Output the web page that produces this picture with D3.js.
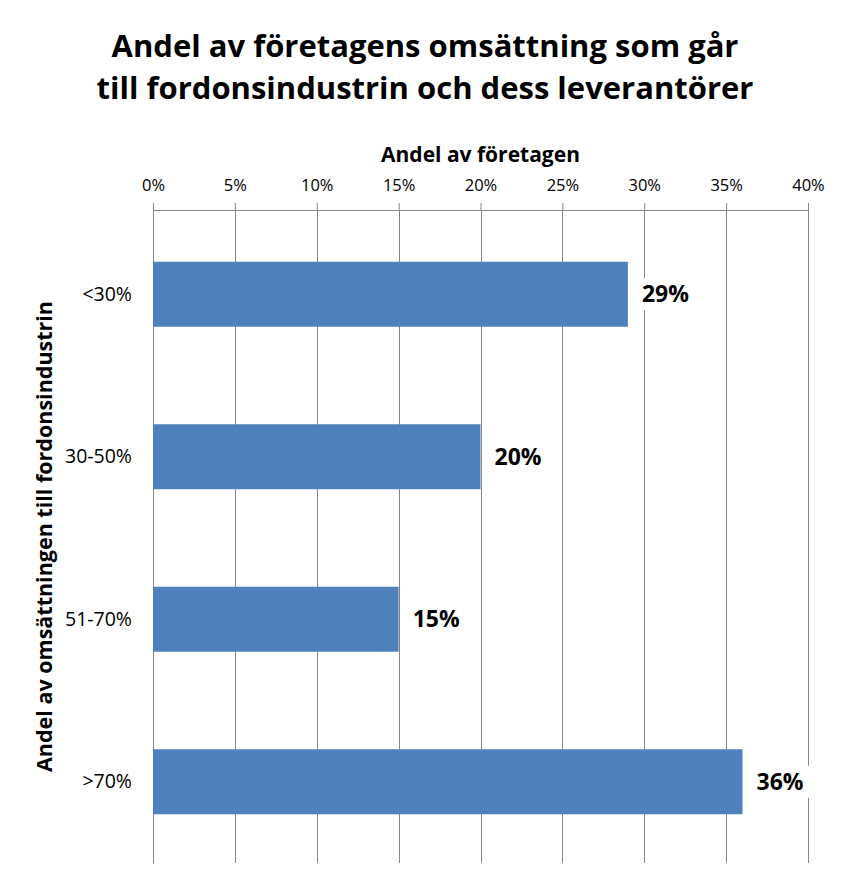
<!DOCTYPE html>
<html>
<head>
<meta charset="utf-8">
<script src="https://cdn.jsdelivr.net/npm/d3@7"></script>
<style>
  body { margin: 0; background: #fff; }
  text { font-family: 'Open Sans', sans-serif; }
</style>
</head>
<body>
<div id="chart"></div>
<script>
'use strict'

// Data
const categories = ['<30%', '30-50%', '51-70%', '>70%']
const values = [0.29, 0.2, 0.15, 0.36]
const xTicks = [0, 0.05, 0.1, 0.15, 0.2, 0.25, 0.3, 0.35, 0.4]
const titleLines = [
  'Andel av företagens omsättning som går',
  'till fordonsindustrin och dess leverantörer',
]

function draw() {
  const dimensions = {
    width: 850,
    height: 886,
    margin: { top: 210, right: 42, bottom: 23, left: 153 },
  }
  dimensions.containerWidth =
    dimensions.width - dimensions.margin.left - dimensions.margin.right
  dimensions.containerHeight =
    dimensions.height - dimensions.margin.top - dimensions.margin.bottom

  const svg = d3
    .select('#chart')
    .append('svg')
    .attr('width', dimensions.width)
    .attr('height', dimensions.height)

  // Title
  svg
    .append('text')
    .attr('text-anchor', 'middle')
    .attr('font-weight', 'bold')
    .attr('font-size', 31)
    .selectAll('tspan')
    .data(titleLines)
    .join('tspan')
    .attr('x', 425)
    .attr('y', (d, i) => 57 + i * 42)
    .text((d) => d)

  const container = svg
    .append('g')
    .attr(
      'transform',
      `translate(${dimensions.margin.left}, ${dimensions.margin.top})`
    )

  // Scales
  const xScale = d3
    .scaleLinear()
    .domain([0, 0.4])
    .range([0, dimensions.containerWidth])

  const yScale = d3
    .scaleBand()
    .domain(categories)
    .range([3, dimensions.containerHeight])
    .paddingInner(0.6)
    .paddingOuter(0.3)

  // Gridlines
  container
    .append('g')
    .selectAll('line')
    .data(xTicks)
    .join('line')
    .attr('x1', (d) => Math.round(xScale(d)) + 0.5)
    .attr('x2', (d) => Math.round(xScale(d)) + 0.5)
    .attr('y1', 0)
    .attr('y2', dimensions.containerHeight)
    .attr('stroke', '#868686')

  // Top axis
  const xAxis = d3
    .axisTop(xScale)
    .tickValues(xTicks)
    .tickSize(7)
    .tickPadding(12)
    .tickFormat(d3.format('.0%'))

  const xAxisGroup = container.append('g').call(xAxis)
  xAxisGroup.selectAll('path, line').attr('stroke', '#868686')
  xAxisGroup
    .selectAll('text')
    .attr('font-size', 16.5)
    .attr('fill', '#000')
    .style('font-family', "'Open Sans', sans-serif")

  xAxisGroup
    .append('text')
    .attr('x', dimensions.containerWidth / 2)
    .attr('y', -48)
    .attr('fill', '#000')
    .attr('font-weight', 'bold')
    .attr('font-size', 21)
    .attr('text-anchor', 'middle')
    .style('font-family', "'Open Sans', sans-serif")
    .text('Andel av företagen')

  // Left axis
  const yAxis = d3.axisLeft(yScale).tickSize(0).tickPadding(21)
  const yAxisGroup = container.append('g').call(yAxis)
  yAxisGroup.select('path').attr('stroke', '#868686')
  yAxisGroup
    .selectAll('text')
    .attr('font-size', 19.5)
    .attr('fill', '#000')
    .style('font-family', "'Open Sans', sans-serif")

  yAxisGroup
    .append('text')
    .attr('transform', 'rotate(-90)')
    .attr('x', -dimensions.containerHeight / 2)
    .attr('y', -101)
    .attr('fill', '#000')
    .attr('font-weight', 'bold')
    .attr('font-size', 21.5)
    .attr('text-anchor', 'middle')
    .style('font-family', "'Open Sans', sans-serif")
    .text('Andel av omsättningen till fordonsindustrin')

  // Bars
  container
    .append('g')
    .selectAll('rect')
    .data(values)
    .join('rect')
    .attr('x', 0)
    .attr('y', (d, i) => yScale(categories[i]))
    .attr('width', (d) => xScale(d))
    .attr('height', yScale.bandwidth())
    .attr('fill', '#4F81BD')

  // Data labels with white background
  const labels = container
    .append('g')
    .selectAll('g')
    .data(values)
    .join('g')
    .attr(
      'transform',
      (d, i) =>
        `translate(${xScale(d) + 14}, ${
          yScale(categories[i]) + yScale.bandwidth() / 2
        })`
    )

  labels
    .append('rect')
    .attr('x', -4)
    .attr('y', -16)
    .attr('width', 58)
    .attr('height', 32)
    .attr('fill', '#fff')

  labels
    .append('text')
    .attr('dy', '0.35em')
    .attr('font-weight', 'bold')
    .attr('font-size', 23)
    .attr('fill', '#000')
    .text((d) => d3.format('.0%')(d))
}

draw()
</script>
</body>
</html>
